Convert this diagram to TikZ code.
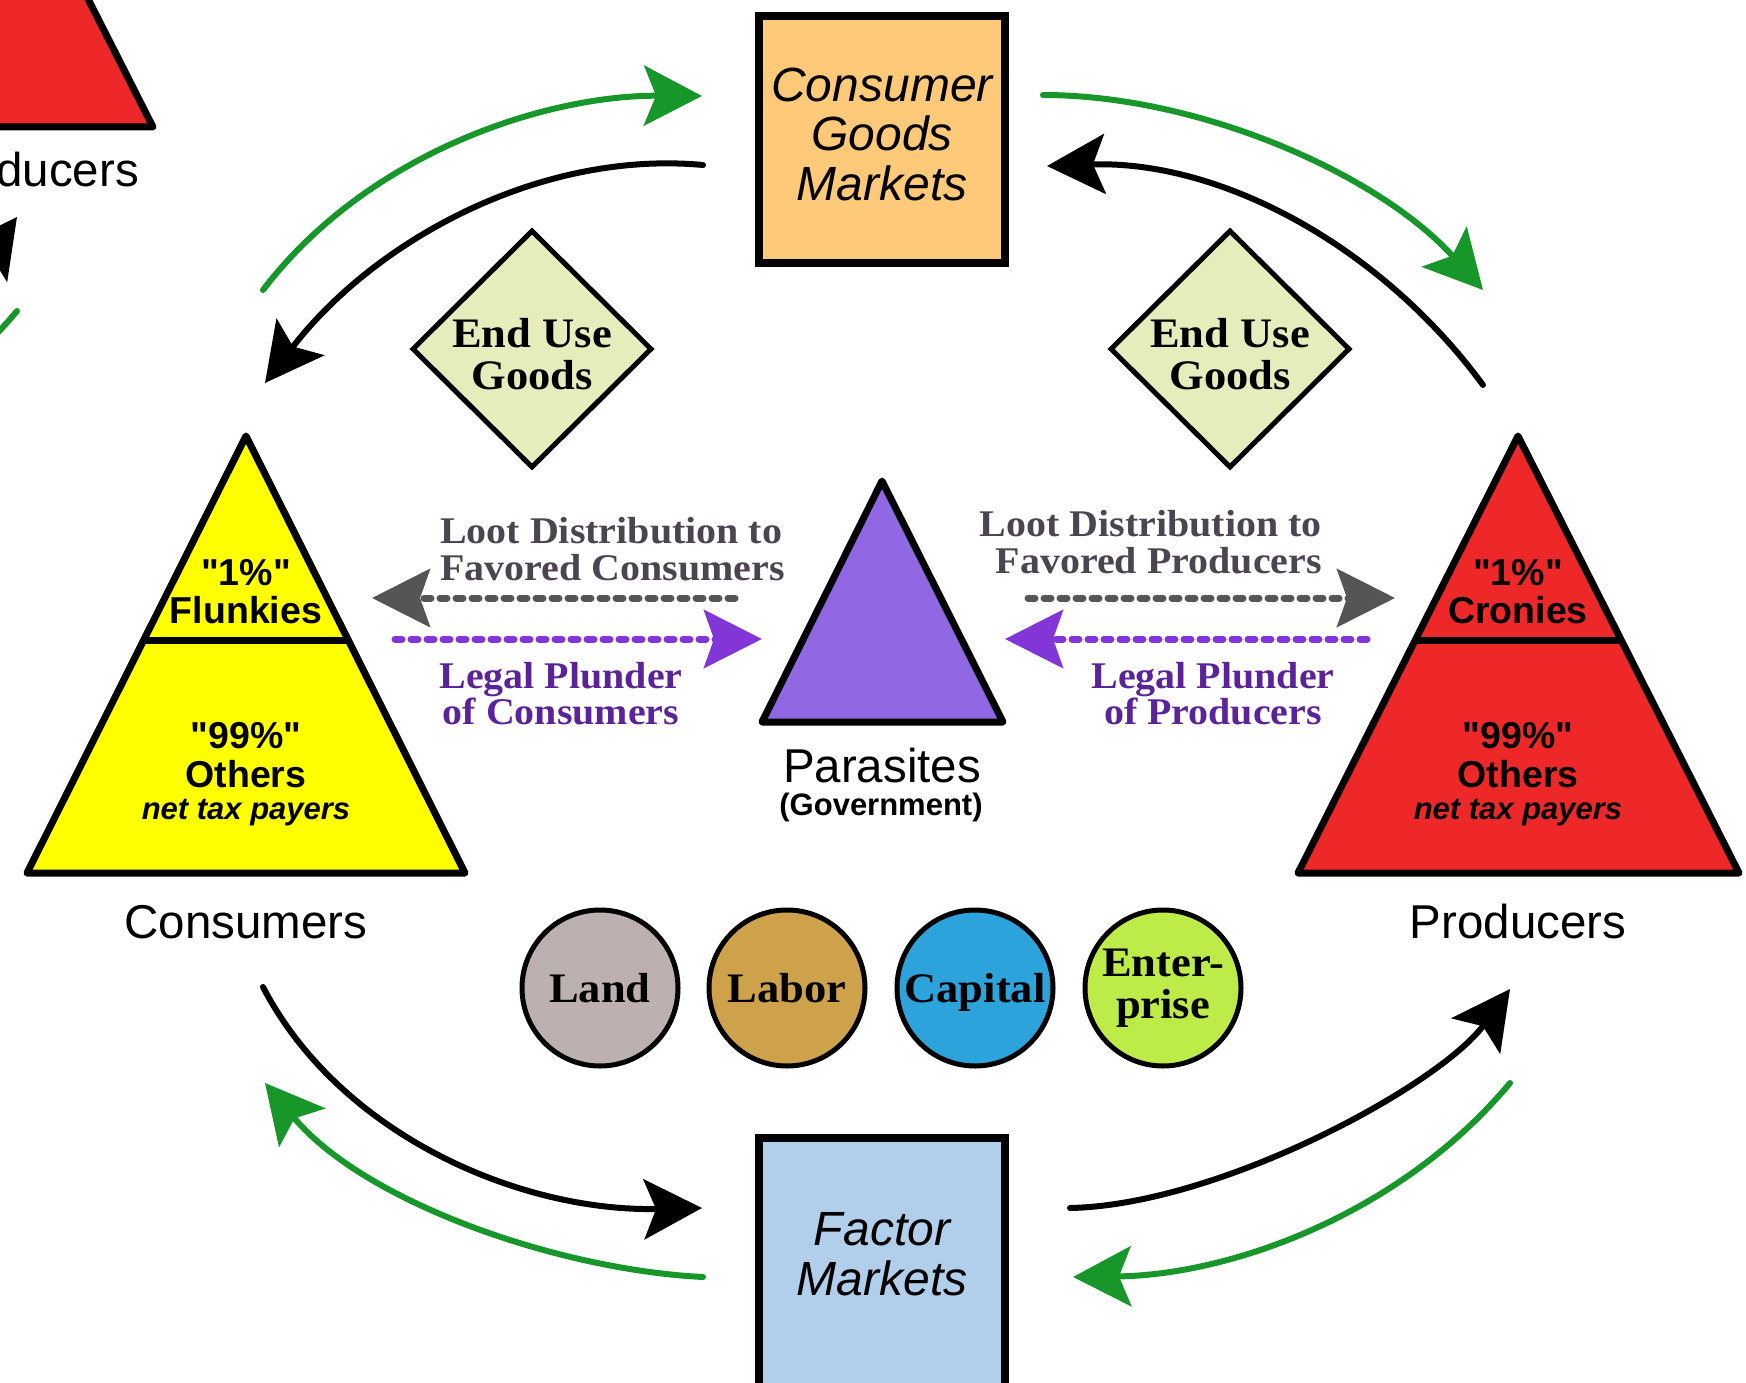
\documentclass[tikz,border=0pt]{standalone}
\usepackage{fontspec}
\setmainfont{Liberation Sans}[Ligatures=TeXOff]
\newfontfamily\palfont[FakeStretch=1.06]{Liberation Serif}
\usetikzlibrary{arrows.meta,shapes.geometric,calc}
\definecolor{cgmfill}{HTML}{FEC978}
\definecolor{facfill}{HTML}{B1CFEA}
\definecolor{diafill}{HTML}{E6ECBC}
\definecolor{yel}{HTML}{FFFF00}
\definecolor{redt}{HTML}{EE2828}
\definecolor{purt}{HTML}{9168E3}
\definecolor{landc}{HTML}{BCB0B0}
\definecolor{laborc}{HTML}{CDA24A}
\definecolor{capc}{HTML}{2CA3DB}
\definecolor{entc}{HTML}{BDEB48}
\definecolor{agreen}{HTML}{17962A}
\definecolor{dgray}{HTML}{555555}
\definecolor{dpurple}{HTML}{8236D8}
\definecolor{loottxt}{HTML}{4B4550}
\definecolor{legaltxt}{HTML}{5B2399}
\newcommand{\qq}{\char34\relax}
\tikzset{
  ol/.style={line width=7pt, line join=round},
  arcarrow/.style={line width=6pt, line cap=round, -{Stealth[length=58pt,width=60pt,inset=12pt]}},
  garc/.style={arcarrow, draw=agreen},
  karc/.style={arcarrow, draw=black},
  dashed arrow/.style={line width=7pt, line cap=round, dash pattern=on 7pt off 9pt, -{Stealth[length=58pt,width=58pt,inset=10pt]}},
  boxnode/.style={draw, line width=8pt, minimum width=246pt, inner sep=0pt},
  dianode/.style={diamond, draw, line width=5pt, fill=diafill, minimum width=240pt, minimum height=238pt, inner sep=0pt},
  factnode/.style={circle, draw, line width=5pt, minimum size=156pt, inner sep=0pt},
  boxtext/.style={font=\fontsize{48}{50}\selectfont\itshape, align=center, anchor=base, inner sep=0pt},
  bigsans/.style={font=\fontsize{47.5}{50}\selectfont, anchor=base, inner sep=0pt},
  tribold/.style={font=\fontsize{37.5}{38}\selectfont\bfseries, anchor=base, inner sep=0pt},
  trismall/.style={font=\fontsize{31}{32}\selectfont\bfseries\itshape, anchor=base, inner sep=0pt},
  serifb/.style={font=\palfont\bfseries\fontsize{42}{42}\selectfont, align=center, anchor=base, inner sep=0pt},
  loot/.style={font=\palfont\bfseries\fontsize{37.7}{37}\selectfont, text=loottxt, anchor=base, inner sep=0pt},
  legal/.style={font=\palfont\bfseries\fontsize{37.7}{34.5}\selectfont, text=legaltxt, align=center, anchor=base, inner sep=0pt}
}
\begin{document}
\begin{tikzpicture}[x=1pt,y=-1pt]
\useasboundingbox (0,0) rectangle (1746,1383);
\clip (0,0) rectangle (1746,1383);

% ---------- partial copy at top left ----------
\coordinate (xA) at (-66,-305);
\coordinate (xL) at (-286,127);
\coordinate (xR) at (153,127);
\filldraw[ol, fill=redt] (xA) -- (xL) -- (xR) -- cycle;
\node[bigsans, anchor=base east] (xlabel) at (139,187) {Producers};
\begin{scope}[shift={(-1493,-772)}]
  \coordinate (xk1) at (1070,1208);
  \coordinate (xk2) at (1510,989);
  \coordinate (xg1) at (1510,1083);
  \coordinate (xg2) at (1073,1277);
  \draw[karc] (xk1) .. controls (1220,1205) and (1440,1085) .. (xk2);
  \draw[garc] (xg1) .. controls (1400,1215) and (1230,1275) .. (xg2);
\end{scope}

% ---------- markets ----------
\node[boxnode, fill=cgmfill, minimum height=247pt] (cgm) at (882,139.5) {};
\node[boxtext] (cgmtext) at (882,201) {Consumer\\Goods\\Markets};
\node[boxnode, fill=facfill, minimum height=300pt] (fm) at (882,1288) {};
\node[boxtext] (fmtext) at (882,1295) {Factor\\Markets};

% ---------- diamonds ----------
\node[dianode] (d1) at (532,349) {};
\node[serifb] (d1text) at (532,389) {End Use\\Goods};
\node[dianode] (d2) at (1230,349) {};
\node[serifb] (d2text) at (1230,389) {End Use\\Goods};

% ---------- consumers pyramid ----------
\coordinate (cA) at (246,436);
\coordinate (cL) at (27,873);
\coordinate (cR) at (465,873);
\filldraw[ol, fill=yel] (cA) -- (cL) -- (cR) -- cycle;
\draw[line width=7pt] ($(cA)!0.467!(cL)$) -- ($(cA)!0.467!(cR)$);
\node[tribold] (c1) at (246,585) {\qq1\%\qq};
\node[tribold] (c2) at (246,623) {Flunkies};
\node[tribold] (c3) at (246,748) {\qq99\%\qq};
\node[tribold] (c4) at (246,787) {Others};
\node[trismall] (c5) at (246,819) {net tax payers};
\node[bigsans] (clabel) at (246,938) {Consumers};

% ---------- producers pyramid ----------
\coordinate (pA) at (1518,436);
\coordinate (pL) at (1298,873);
\coordinate (pR) at (1739,873);
\filldraw[ol, fill=redt] (pA) -- (pL) -- (pR) -- cycle;
\draw[line width=7pt] ($(pA)!0.467!(pL)$) -- ($(pA)!0.467!(pR)$);
\node[tribold] (p1) at (1518,585) {\qq1\%\qq};
\node[tribold] (p2) at (1518,623) {Cronies};
\node[tribold] (p3) at (1518,748) {\qq99\%\qq};
\node[tribold] (p4) at (1518,787) {Others};
\node[trismall] (p5) at (1518,819) {net tax payers};
\node[bigsans] (plabel) at (1518,938) {Producers};

% ---------- parasites ----------
\coordinate (gA) at (882,481);
\coordinate (gL) at (762,722);
\coordinate (gR) at (1003,722);
\filldraw[ol, fill=purt] (gA) -- (gL) -- (gR) -- cycle;
\node[bigsans] (gov1) at (882,782) {Parasites};
\node[font=\fontsize{31}{33}\selectfont\bfseries, anchor=base, inner sep=0pt] (gov2) at (881,815) {(Government)};

% ---------- loot / plunder ----------
\node[loot, align=left, anchor=base west] (loot1) at (440,580) {Loot Distribution to\\Favored Consumers};
\node[loot, align=right, anchor=base east] (loot2) at (1322,573) {Loot Distribution to\\Favored Producers};
\node[legal] (legal1) at (561,724) {Legal Plunder\\of Consumers};
\node[legal] (legal2) at (1213,724) {Legal Plunder\\of Producers};

\coordinate (lg1s) at (735,598);
\coordinate (lg1e) at (372,598);
\coordinate (lp1s) at (395,639);
\coordinate (lp1e) at (762,639);
\coordinate (lg2s) at (1028,598);
\coordinate (lg2e) at (1395,598);
\coordinate (lp2s) at (1367,639);
\coordinate (lp2e) at (1005,639);
\draw[dashed arrow, draw=dgray] (lg1s) -- (lg1e);
\draw[dashed arrow, draw=dpurple] (lp1s) -- (lp1e);
\draw[dashed arrow, draw=dgray] (lg2s) -- (lg2e);
\draw[dashed arrow, draw=dpurple] (lp2s) -- (lp2e);

% ---------- factors ----------
\node[factnode, fill=landc] (land) at (600,988) {};
\node[factnode, fill=laborc] (labor) at (787,988) {};
\node[factnode, fill=capc] (capital) at (975,988) {};
\node[factnode, fill=entc] (ent) at (1163,988) {};
\node[serifb] (landt) at (600,1002) {Land};
\node[serifb] (labort) at (787,1002) {Labor};
\node[serifb] (capt) at (975,1002) {Capital};
\node[serifb] (entt) at (1163,1018) {Enter-\\prise};

% ---------- circular flow arcs ----------
\coordinate (gA1) at (263,290);  \coordinate (gA2) at (702,96);
\coordinate (kA1) at (703,165);  \coordinate (kA2) at (265,383);
\coordinate (gB1) at (1043,95);  \coordinate (gB2) at (1483,290);
\coordinate (kB1) at (1483,385); \coordinate (kB2) at (1047,166);
\coordinate (kC1) at (263,987);  \coordinate (kC2) at (702,1208);
\coordinate (gC1) at (703,1277); \coordinate (gC2) at (265,1083);
\coordinate (kD1) at (1070,1208); \coordinate (kD2) at (1510,989);
\coordinate (gD1) at (1510,1083); \coordinate (gD2) at (1073,1277);

\draw[garc] (gA1) .. controls (370,150) and (550,95) .. (gA2);
\draw[karc] (kA1) .. controls (540,150) and (375,240) .. (kA2);
\draw[garc] (gB1) .. controls (1200,95) and (1380,175) .. (gB2);
\draw[karc] (kB1) .. controls (1380,245) and (1220,160) .. (kB2);
\draw[karc] (kC1) .. controls (340,1135) and (520,1212) .. (kC2);
\draw[garc] (gC1) .. controls (560,1270) and (365,1203) .. (gC2);
\draw[karc] (kD1) .. controls (1220,1205) and (1440,1085) .. (kD2);
\draw[garc] (gD1) .. controls (1400,1215) and (1230,1275) .. (gD2);
\end{tikzpicture}
\end{document}
